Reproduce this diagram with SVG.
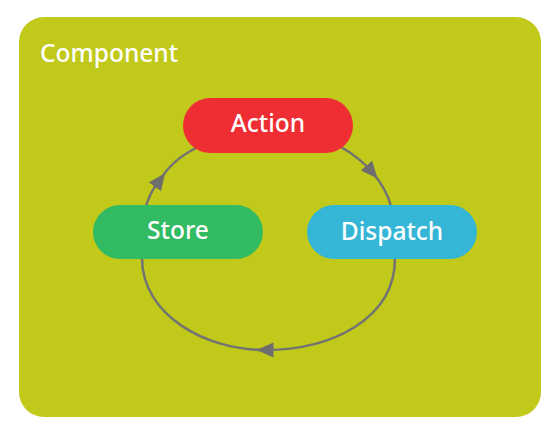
<svg xmlns="http://www.w3.org/2000/svg" width="557" height="433" viewBox="0 0 557 433">
  <defs>
    <style>
      .lbl { font-family: "Noto Sans", "Liberation Sans", sans-serif; font-weight: 500; fill: #ffffff; }
      .node-text { font-size: 24.5px; text-anchor: middle; }
      .edge { fill: none; stroke: #737373; stroke-width: 2.5; marker-mid: url(#arrow); }
    </style>
    <marker id="arrow" markerUnits="userSpaceOnUse" markerWidth="18" markerHeight="16" refX="8.5" refY="7.5" orient="auto" viewBox="0 0 18 16">
      <path d="M0,0 L17,7.5 L0,15 z" fill="#6e6e6e"/>
    </marker>
  </defs>
  <rect width="557" height="433" fill="#ffffff"/>
  <g id="component">
    <rect x="19" y="17" width="522" height="400" rx="25" ry="25" fill="#c1c91a"/>
    <text class="lbl" x="40" y="62" font-size="24.5">Component</text>
  </g>
  <g id="connectors">
    <path class="edge" d="M146,206 Q151,190 160,180 Q172,160 196,148"/>
    <path class="edge" d="M341,147 Q360,158 372,172 Q386,188 391,206"/>
    <path class="edge" d="M395,258 C395,320 330,350 265,350 C205,350 142,315 142,258"/>
  </g>
  <g id="action">
    <rect x="183" y="98" width="170" height="55" rx="27.5" fill="#ee2e33"/>
    <text class="lbl node-text" x="268" y="132">Action</text>
  </g>
  <g id="dispatch">
    <rect x="307" y="205" width="170" height="54" rx="27" fill="#35b6d6"/>
    <text class="lbl node-text" x="392" y="240">Dispatch</text>
  </g>
  <g id="store">
    <rect x="93" y="205" width="170" height="54" rx="27" fill="#32bb62"/>
    <text class="lbl node-text" x="178" y="239">Store</text>
  </g>
</svg>
